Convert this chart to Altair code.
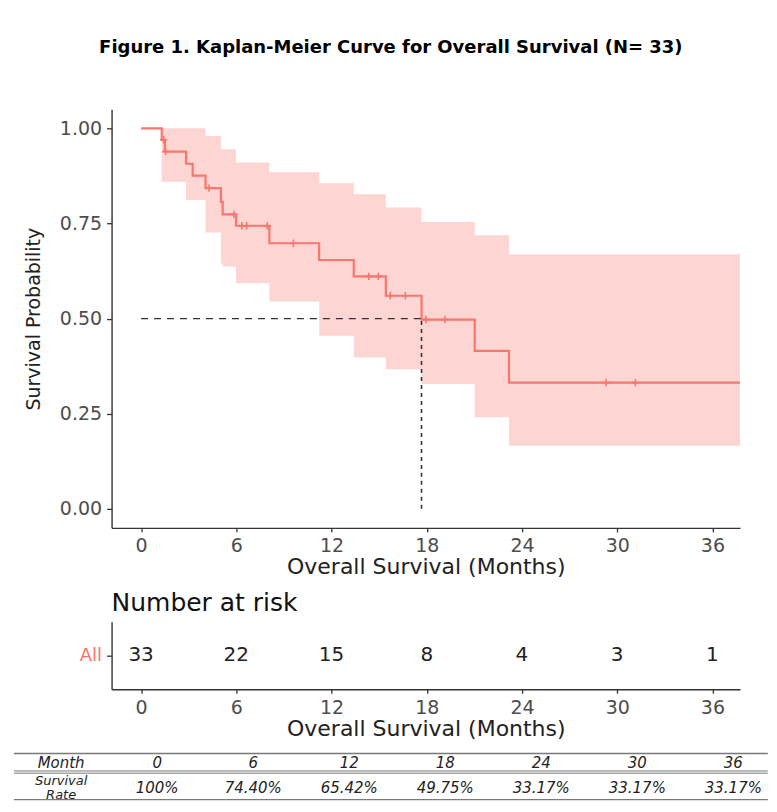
import altair as alt
import pandas as pd

# Kaplan-Meier estimate (months)
step_time = [0, 1.30, 1.50, 2.83, 3.25, 4.06, 5.03, 5.14, 5.98, 8.08, 11.22, 13.40, 15.42, 17.67, 21.02, 23.18, 38.5]
step_surv = [1.0, 0.970, 0.939, 0.907, 0.876, 0.843, 0.807, 0.774, 0.744, 0.698, 0.654, 0.611, 0.560, 0.4975, 0.415, 0.3317, 0.3317]
step_upper = [1.0, 1.0, 1.0, 1.0, 1.0, 0.98, 0.945, 0.945, 0.91, 0.885, 0.856, 0.827, 0.792, 0.754, 0.719, 0.669, 0.669]
step_lower = [1.0, 0.86, 0.86, 0.812, 0.812, 0.726, 0.645, 0.637, 0.593, 0.545, 0.455, 0.398, 0.367, 0.328, 0.241, 0.166, 0.166]

# censored observations
cens_time = [1.42, 1.55, 4.28, 5.85, 6.35, 6.65, 7.95, 9.6, 14.35, 14.95, 15.7, 16.65, 17.95, 19.15, 29.3, 31.15]
cens_surv = [0.970, 0.939, 0.843, 0.774, 0.744, 0.744, 0.744, 0.698, 0.611, 0.611, 0.560, 0.560, 0.4975, 0.4975, 0.3317, 0.3317]

median_time = 17.67

risk_time = [0, 6, 12, 18, 24, 30, 36]
risk_n = [33, 22, 15, 8, 4, 3, 1]

table_month = ["0", "6", "12", "18", "24", "30", "36"]
table_rate = ["100%", "74.40%", "65.42%", "49.75%", "33.17%", "33.17%", "33.17%"]

RED = "#F8766D"
FONT = "DejaVu Sans"
W = 629.2

km = pd.DataFrame({"time": step_time, "surv": step_surv,
                   "upper": step_upper, "lower": step_lower})
cens = pd.DataFrame({"time": cens_time, "surv": cens_surv})
med = pd.DataFrame({"time": [median_time], "t0": [0], "half": [0.5], "s0": [0]})
risk = pd.DataFrame({"time": risk_time, "n": risk_n, "strata": "All"})

x_scale = alt.Scale(domain=[-1.86, 37.74], nice=False, zero=False)
x_axis = alt.Axis(values=risk_time, title="Overall Survival (Months)", grid=False,
                  labelFont=FONT, labelFontSize=19, labelColor="#4D4D4D", labelPadding=5,
                  tickSize=4, tickColor="#333", tickWidth=1.3,
                  domainColor="#333", domainWidth=1.4,
                  titleFont=FONT, titleFontSize=22, titleFontWeight="normal",
                  titleColor="#222", titlePadding=1)
y_scale = alt.Scale(domain=[-0.05, 1.05], nice=False, zero=False)
y_axis = alt.Axis(values=[0, 0.25, 0.5, 0.75, 1.0], format=".2f", title="Survival Probability",
                  grid=False, labelFont=FONT, labelFontSize=19, labelColor="#4D4D4D",
                  labelPadding=5, tickSize=5, tickColor="#333", tickWidth=1.3,
                  domainColor="#333", domainWidth=1.4,
                  titleFont=FONT, titleFontSize=19, titleFontWeight="normal",
                  titleColor="#222", titlePadding=16)


def xq(field):
    return alt.X(field, type="quantitative", scale=x_scale, axis=x_axis)


def yq(field):
    return alt.Y(field, type="quantitative", scale=y_scale, axis=y_axis)


band = alt.Chart(km).mark_area(interpolate="step-after", color=RED, opacity=0.3, clip=True).encode(
    x=xq("time"), y=yq("lower"), y2="upper")
curve = alt.Chart(km).mark_line(interpolate="step-after", color=RED, strokeWidth=2.2, clip=True).encode(
    x=xq("time"), y=yq("surv"))
marks = alt.Chart(cens).mark_point(shape="M0,-1L0,1M-1,0L1,0", size=55, color=RED,
                                   strokeWidth=1.6, opacity=1, filled=False, clip=True).encode(
    x=xq("time"), y=yq("surv"))
med_h = alt.Chart(med).mark_rule(color="#333", strokeWidth=1.4, strokeDash=[7, 6]).encode(
    x=xq("t0"), x2="time", y=yq("half"))
med_v = alt.Chart(med).mark_rule(color="#333", strokeWidth=1.6, strokeDash=[4, 4]).encode(
    x=xq("time"), y=yq("s0"), y2="half")

main = alt.layer(band, curve, marks, med_h, med_v).properties(width=W, height=419)

risk_chart = alt.Chart(risk).mark_text(font=FONT, fontSize=20, color="#222").encode(
    x=xq("time"),
    y=alt.Y("strata:N", axis=alt.Axis(title=None, labelColor=RED, labelFont=FONT, labelFontSize=18,
                                       labelPadding=5, tickSize=5, tickColor="#333", tickWidth=1.3,
                                       domainColor="#333", domainWidth=1.4)),
    text="n:Q",
).properties(width=W, height=67.6,
             title=alt.TitleParams("Number at risk", anchor="start", frame="group", font=FONT,
                                   fontSize=25, fontWeight="normal", color="#111", offset=6))

# summary table under the plot
cols = ["Month"] + table_month
tbl = pd.DataFrame({
    "col": cols + table_month,
    "row": ["head"] * len(cols) + ["value"] * len(table_month),
    "label": ["Month"] + table_month + table_rate,
})
stub_top = pd.DataFrame({"col": ["Month"], "row": ["value"], "label": ["Survival"]})
stub_bot = pd.DataFrame({"col": ["Month"], "row": ["value"], "label": ["Rate"]})

tx = alt.X("col:N", scale=alt.Scale(type="point", domain=cols, range=[-50.5, 622.5], padding=0), axis=None)
ty = alt.Y("row:N", scale=alt.Scale(type="point", domain=["head", "value"], range=[9.5, 34], padding=0),
           axis=None)
tbl_text = alt.Chart(tbl).mark_text(font=FONT, fontStyle="italic", fontSize=15, color="#222").encode(
    x=tx, y=ty, text="label:N")
stub1 = alt.Chart(stub_top).mark_text(font=FONT, fontStyle="italic", fontSize=13, dy=-7,
                                      color="#222").encode(x=tx, y=ty, text="label:N")
stub2 = alt.Chart(stub_bot).mark_text(font=FONT, fontStyle="italic", fontSize=13, dy=7,
                                      color="#222").encode(x=tx, y=ty, text="label:N")
one = pd.DataFrame({"k": [0]})


def hline(ypos, width):
    return alt.Chart(one).mark_rule(color="#7a7a7a", strokeWidth=width).encode(
        x=alt.value(-97.8), x2=alt.value(657), y=alt.value(ypos))


table = alt.layer(tbl_text, stub1, stub2, hline(0, 1.5), hline(17.4, 1.0), hline(19.6, 1.0),
                  hline(46, 1.3)).properties(width=W, height=46)


def spacer(h):
    return alt.Chart(one).mark_point(opacity=0).encode(
        x=alt.value(0), y=alt.value(0)).properties(width=W, height=h)


chart = alt.vconcat(
    main, spacer(94), risk_chart, spacer(64), table,
    spacing=0, bounds="flush",
).properties(
    title=alt.TitleParams("Figure 1. Kaplan-Meier Curve for Overall Survival (N= 33)",
                          anchor="middle", font=FONT, fontSize=18, fontWeight="bold",
                          color="#000", offset=52),
    padding={"left": 4.7, "top": 31, "right": 0, "bottom": 0},
).configure_view(strokeWidth=0)

chart.save("out.html", embed_options={"renderer": "svg", "actions": False})
